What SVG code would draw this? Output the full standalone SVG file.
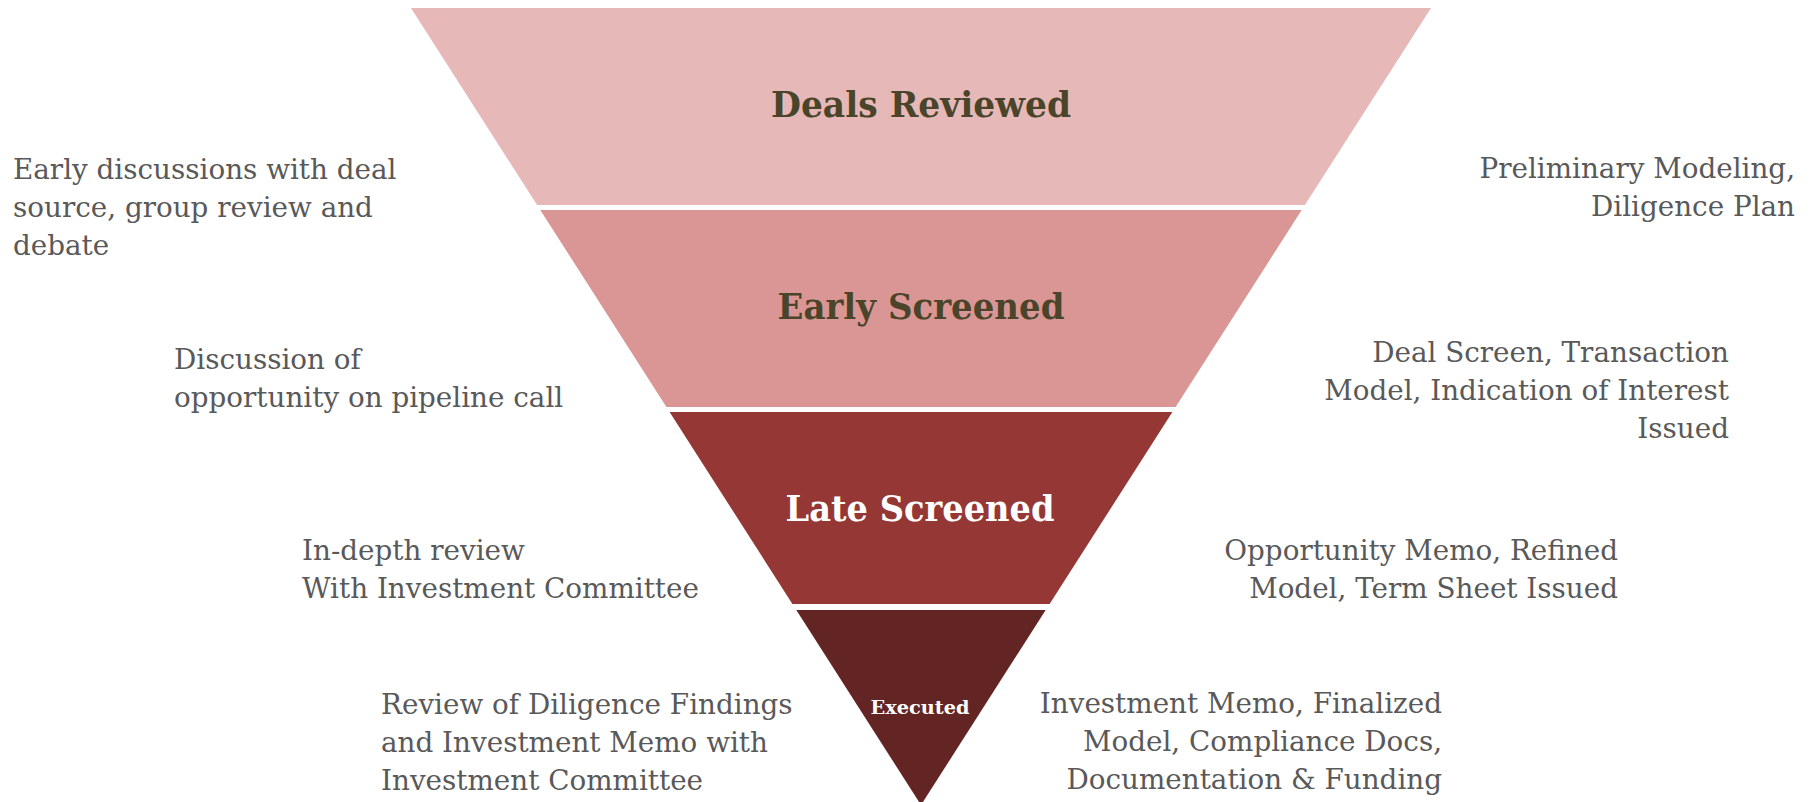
<svg xmlns="http://www.w3.org/2000/svg" width="1816" height="802" viewBox="0 0 1816 802">
  <style>
    .note { font-family: "DejaVu Serif", "Liberation Serif", serif; font-size: 27.8px; fill: #595959; }
    .end { text-anchor: end; }
    .lbl { font-family: "DejaVu Serif", "Liberation Serif", serif; font-weight: bold; text-anchor: middle; }
    .dark { fill: #4A452A; }
    .light { fill: #FFFFFF; }
  </style>
  <rect x="0" y="0" width="1816" height="802" fill="#FFFFFF"/>
  <g id="stage-deals-reviewed">
    <polygon points="411,8 1431,8 1304.9,205 537.1,205" fill="#E6B8B7"/>
    <text class="lbl dark" x="921" y="117" font-size="35" textLength="300" lengthAdjust="spacingAndGlyphs">Deals Reviewed</text>
  </g>
  <g id="stage-early-screened">
    <polygon points="540.3,210 1301.7,210 1175.6,407 666.4,407" fill="#DA9694"/>
    <text class="lbl dark" x="921" y="319" font-size="35" textLength="287" lengthAdjust="spacingAndGlyphs">Early Screened</text>
  </g>
  <g id="stage-late-screened">
    <polygon points="669.6,412 1172.4,412 1049.6,604 792.4,604" fill="#953735"/>
    <text class="lbl light" x="920" y="521" font-size="35" textLength="269" lengthAdjust="spacingAndGlyphs">Late Screened</text>
  </g>
  <g id="stage-executed">
    <polygon points="796.3,610 1045.7,610 921,805" fill="#632523"/>
    <text class="lbl light" x="920" y="714" font-size="19" textLength="99" lengthAdjust="spacingAndGlyphs">Executed</text>
  </g>
  <g id="notes-left">
    <text class="note" x="13" y="179">Early discussions with deal</text>
    <text class="note" x="13" y="217">source, group review and</text>
    <text class="note" x="13" y="255">debate</text>
    <text class="note" x="174" y="369">Discussion of</text>
    <text class="note" x="174" y="407">opportunity on pipeline call</text>
    <text class="note" x="302" y="560">In-depth review</text>
    <text class="note" x="302" y="598">With Investment Committee</text>
    <text class="note" x="381" y="714">Review of Diligence Findings</text>
    <text class="note" x="381" y="752">and Investment Memo with</text>
    <text class="note" x="381" y="790">Investment Committee</text>
  </g>
  <g id="notes-right">
    <text class="note end" x="1795" y="178">Preliminary Modeling,</text>
    <text class="note end" x="1795" y="216">Diligence Plan</text>
    <text class="note end" x="1729" y="362">Deal Screen, Transaction</text>
    <text class="note end" x="1729" y="400">Model, Indication of Interest</text>
    <text class="note end" x="1729" y="438">Issued</text>
    <text class="note end" x="1618" y="560">Opportunity Memo, Refined</text>
    <text class="note end" x="1618" y="598">Model, Term Sheet Issued</text>
    <text class="note end" x="1442" y="713">Investment Memo, Finalized</text>
    <text class="note end" x="1442" y="751">Model, Compliance Docs,</text>
    <text class="note end" x="1442" y="789">Documentation &amp; Funding</text>
  </g>
  <g id="connectors"></g>
</svg>
